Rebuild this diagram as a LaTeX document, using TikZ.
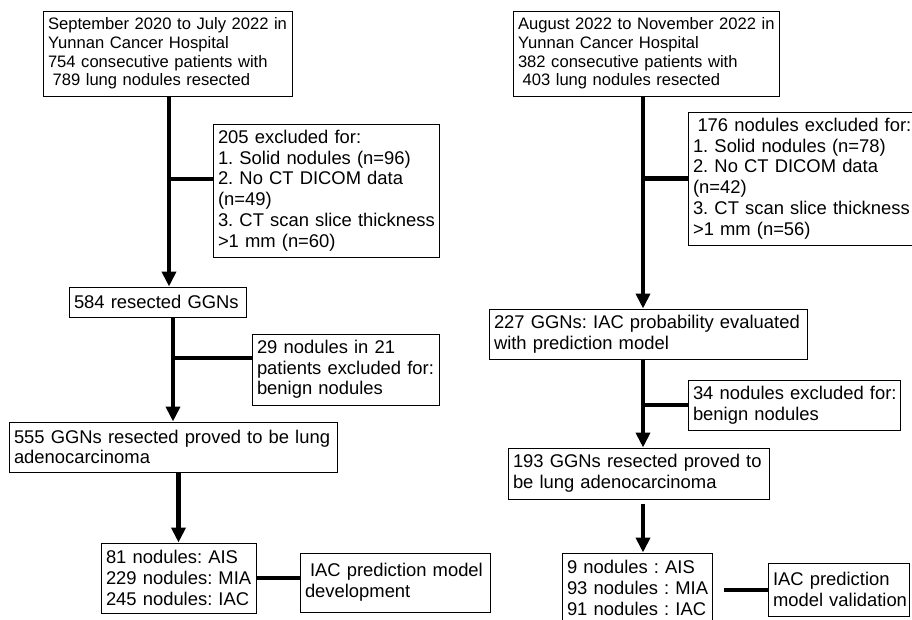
\documentclass[tikz,border=0pt]{standalone}
\usepackage{fontspec}
\setmainfont{Liberation Sans}
\usetikzlibrary{arrows.meta,calc}
\hyphenpenalty=10000
\exhyphenpenalty=10000
\begin{document}
\begin{tikzpicture}[x=1pt,y=-1pt,
  box/.style={draw, line width=1pt, inner xsep=5pt, inner ysep=0pt, align=left, anchor=center,
    font=\fontsize{18.4}{20.7}\selectfont},
  bigbox/.style={box, font=\fontsize{16.6}{18.7}\selectfont},
  arr/.style={line width=4.5pt, -{Triangle[width=14pt,length=15pt]}},
  link/.style={line width=4.5pt}]
\useasboundingbox (0,0) rectangle (912,619);
% left column
\node[bigbox, text width=239pt, minimum height=85pt] (A1) at (167.5,53.5)
  {September~2020~to~July~2022~in\\Yunnan~Cancer~Hospital\\754~consecutive~patients~with\\\hspace*{4.6pt}789~lung~nodules~resected};
\node[box, text width=216pt, minimum height=133pt] (E1) at (326,190.5)
  {205~excluded~for:\\1.~Solid~nodules~(n=96)\\2.~No~CT~DICOM~data\\(n=49)\\3.~CT~scan~slice~thickness\\>1~mm~(n=60)};
\node[box, text width=167pt, minimum height=30pt] (A2) at (157.5,302)
  {584~resected~GGNs};
\node[box, text width=177pt, minimum height=71pt] (E2) at (345.5,369.5)
  {29~nodules~in~21\\patients~excluded~for:\\benign~nodules};
\node[box, text width=318pt, minimum height=50pt] (A3) at (173,447)
  {555~GGNs~resected~proved~to~be~lung\\adenocarcinoma};
\node[box, text width=145pt, minimum height=70pt] (A4) at (178.5,578)
  {81~nodules:~AIS\\229~nodules:~MIA\\245~nodules:~IAC};
\node[box, text width=180pt, minimum height=59pt] (D1) at (395,582.5)
  {\hspace*{5pt}IAC~prediction~model\\development};
% right column
\node[bigbox, text width=256pt, minimum height=85pt] (B1) at (646,53.5)
  {August~2022~to~November~2022~in\\Yunnan~Cancer~Hospital\\382~consecutive~patients~with\\\hspace*{4.6pt}403~lung~nodules~resected};
\node[box, text width=225pt, minimum height=133pt] (E3) at (805.5,178.5)
  {\hspace*{4.5pt}176~nodules~excluded~for:\\1.~Solid~nodules~(n=78)\\2.~No~CT~DICOM~data\\(n=42)\\3.~CT~scan~slice~thickness\\>1~mm~(n=56)};
\node[box, text width=308pt, minimum height=50pt] (B2) at (648,334)
  {227~GGNs:~IAC~probability~evaluated\\with~prediction~model};
\node[box, text width=202pt, minimum height=50pt] (E4) at (794,405)
  {34~nodules~excluded~for:\\benign~nodules};
\node[box, text width=251pt, minimum height=51pt] (B3) at (638.5,473.5)
  {193~GGNs~resected~proved~to\\be~lung~adenocarcinoma};
\node[box, text width=140pt, minimum height=70pt] (B4) at (637,588)
  {9~nodules~:~AIS\\93~nodules~:~MIA\\91~nodules~:~IAC};
\node[box, text width=131pt, minimum height=53pt] (D2) at (838.5,589.5)
  {IAC~prediction\\model~validation};
% connectors left
\coordinate (c1) at ([xshift=1.5pt]A1.south);
\draw[arr] (c1) -- (c1 |- A2.north);
\draw[link] (c1 |- 0,179) -- (E1.west |- 0,179);
\coordinate (c2) at ([xshift=15.5pt]A2.south);
\draw[arr] (c2) -- (c2 |- A3.north);
\draw[link] (c2 |- 0,358) -- (E2.west |- 0,358);
\draw[arr] (A3.south -| A4.north) -- (A4.north);
\draw[link] (A4.east) -- (A4.east -| D1.west);
% connectors right
\coordinate (c3) at ([xshift=-3pt]B1.south);
\draw[arr] (c3) -- (c3 |- B2.north);
\draw[link] (c3 |- E3.west) -- (E3.west);
\coordinate (c4) at ([xshift=-5pt]B2.south);
\draw[arr] (c4) -- (c4 |- B3.north);
\draw[link] (c4 |- E4.west) -- (E4.west);
\coordinate (c5) at ([xshift=4.5pt,yshift=-4pt]B3.south);
\draw[arr] (c5) -- (c5 |- B4.north);
\coordinate (c6) at ([xshift=11pt,yshift=-2pt]B4.east);
\draw[link] (c6) -- (c6 -| D2.west);
\end{tikzpicture}
\end{document}
